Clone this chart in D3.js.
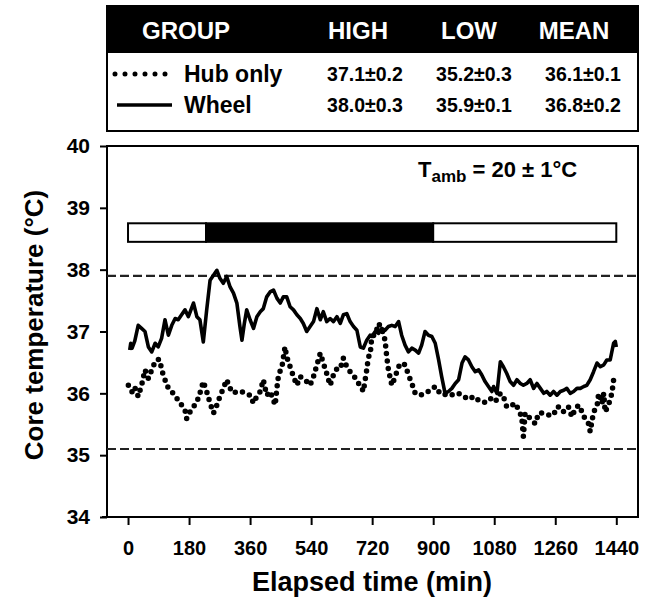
<!DOCTYPE html>
<html>
<head>
<meta charset="utf-8">
<script src="https://cdn.jsdelivr.net/npm/d3@7"></script>
<style>
  html, body { margin: 0; padding: 0; background: #fff; }
  svg { display: block; font-family: "Liberation Sans", Arial, Helvetica, sans-serif; font-weight: bold; }
</style>
</head>
<body>
<svg id="chart" width="650" height="600"></svg>
<script>
// Elapsed time (min) and core temperature (°C) for the wheel group
const wheelTime = [5, 8, 12, 20, 30, 40, 50, 60, 70, 80, 89, 99, 109, 119, 129, 139, 148, 158, 168, 178,
  193, 203, 212, 222, 232, 242, 252, 262, 271, 281, 291, 301, 311, 321, 330, 336, 343, 350, 360, 370,
  380, 390, 399, 409, 419, 429, 439, 449, 458, 468, 478, 488, 498, 508, 517, 527, 537, 547, 557, 567,
  576, 586, 596, 606, 616, 626, 635, 645, 655, 665, 675, 685, 694, 704, 714, 719, 729, 739, 748, 758,
  768, 778, 788, 798, 807, 817, 827, 837, 847, 857, 866, 876, 886, 896, 906, 916, 925, 935, 945, 955,
  965, 975, 985, 994, 1004, 1014, 1024, 1034, 1043, 1053, 1063, 1073, 1078, 1088, 1098, 1107, 1117, 1127, 1137, 1147,
  1157, 1166, 1176, 1186, 1196, 1206, 1216, 1226, 1235, 1245, 1255, 1265, 1275, 1285, 1294, 1304, 1314, 1324, 1334, 1344,
  1353, 1363, 1373, 1383, 1393, 1403, 1412, 1422, 1432, 1437, 1440];
const wheelTemp = [36.70, 36.81, 36.73, 36.85, 37.10, 37.05, 37.00, 36.75, 36.67, 36.81, 36.75, 36.89, 37.19, 36.94, 37.10, 37.21, 37.19, 37.27, 37.35, 37.24,
  37.46, 37.24, 37.19, 36.83, 37.35, 37.83, 37.91, 37.99, 37.86, 37.78, 37.89, 37.72, 37.62, 37.46, 37.08, 36.86, 37.13, 37.35, 37.19, 37.05,
  37.24, 37.32, 37.37, 37.56, 37.64, 37.67, 37.54, 37.46, 37.56, 37.56, 37.40, 37.35, 37.27, 37.21, 37.13, 37.00, 37.08, 37.16, 37.37, 37.19,
  37.32, 37.16, 37.21, 37.16, 37.24, 37.13, 37.27, 37.29, 37.16, 37.08, 37.02, 36.75, 36.73, 36.86, 36.94, 36.92, 37.00, 36.97, 37.05, 37.02,
  37.08, 37.10, 37.08, 37.16, 36.94, 36.78, 36.67, 36.73, 36.70, 36.65, 36.78, 37.00, 36.94, 36.92, 36.81, 36.54, 36.27, 36.00, 36.03, 36.08,
  36.16, 36.22, 36.49, 36.59, 36.54, 36.43, 36.35, 36.38, 36.30, 36.19, 36.11, 36.03, 36.11, 36.00, 36.51, 36.43, 36.32, 36.19, 36.13, 36.22,
  36.16, 36.13, 36.16, 36.22, 36.08, 36.16, 36.08, 36.00, 36.03, 35.97, 36.03, 35.97, 36.03, 36.05, 36.08, 36.00, 36.03, 36.08, 36.08, 36.11,
  36.13, 36.22, 36.35, 36.49, 36.43, 36.46, 36.54, 36.54, 36.81, 36.84, 36.75];

// Elapsed time (min) and core temperature (°C) for the hub-only group
const hubTime = [1, 6, 11, 16, 21, 30, 40, 50, 60, 70, 80, 88, 94, 99, 109, 119, 129, 139, 148, 158,
  168, 173, 183, 193, 203, 212, 222, 232, 242, 252, 262, 271, 281, 291, 301, 311, 321, 335, 345, 360,
  370, 380, 390, 399, 409, 419, 434, 439, 444, 454, 463, 468, 478, 488, 498, 508, 517, 527, 537, 547,
  557, 567, 576, 586, 596, 606, 616, 626, 635, 645, 655, 665, 675, 685, 694, 704, 709, 714, 719, 729,
  739, 748, 758, 763, 768, 778, 788, 798, 807, 817, 827, 837, 847, 862, 876, 891, 906, 916, 930, 945,
  960, 975, 990, 1005, 1020, 1035, 1050, 1068, 1083, 1098, 1107, 1117, 1130, 1142, 1152, 1161, 1166, 1171, 1181, 1191,
  1201, 1211, 1226, 1240, 1255, 1265, 1275, 1285, 1299, 1309, 1319, 1329, 1339, 1349, 1358, 1363, 1373, 1383, 1388, 1398,
  1403, 1407, 1417, 1427, 1430, 1434];
const hubTemp = [36.13, 36.10, 36.03, 36.00, 36.08, 35.95, 36.13, 36.38, 36.24, 36.38, 36.51, 36.55, 36.54, 36.38, 36.22, 36.08, 36.03, 35.95, 35.89, 35.81,
  35.73, 35.59, 35.70, 35.78, 35.86, 36.00, 36.19, 36.03, 35.84, 35.68, 35.81, 35.95, 36.08, 36.22, 36.08, 36.00, 36.03, 36.03, 36.00, 35.97,
  35.84, 35.95, 36.03, 36.22, 35.97, 36.03, 35.81, 36.08, 36.30, 36.43, 36.75, 36.59, 36.43, 36.27, 36.13, 36.27, 36.24, 36.19, 36.13, 36.27,
  36.46, 36.65, 36.49, 36.32, 36.13, 36.30, 36.40, 36.40, 36.57, 36.43, 36.35, 36.30, 36.19, 36.13, 36.03, 36.38, 36.59, 36.62, 36.92, 36.95,
  37.13, 37.05, 36.86, 36.59, 36.38, 36.13, 36.27, 36.43, 36.49, 36.46, 36.30, 36.16, 36.00, 35.97, 36.00, 36.05, 36.11, 36.03, 35.97, 36.00,
  35.97, 36.00, 35.95, 35.90, 35.95, 35.88, 35.85, 35.92, 35.86, 36.00, 35.95, 35.78, 35.80, 35.84, 35.73, 35.62, 35.30, 35.68, 35.62, 35.57,
  35.51, 35.68, 35.68, 35.65, 35.65, 35.78, 35.78, 35.70, 35.78, 35.62, 35.75, 35.81, 35.70, 35.57, 35.51, 35.38, 35.70, 35.78, 36.00, 35.84,
  36.00, 35.70, 35.81, 36.00, 36.13, 36.30];

// Axis ticks
const xTicks = [0, 180, 360, 540, 720, 900, 1080, 1260, 1440];
const yTicks = [34, 35, 36, 37, 38, 39, 40];

// Reference levels (dashed) and the light/dark schedule bar (min)
const refLevels = [37.9, 35.1];
const lightPhases = [[0, 230, "#fff"], [230, 900, "#000"], [900, 1440, "#fff"]];
const barTemps = [38.75, 38.45];

// Summary table
const tableHeader = ["GROUP", "HIGH", "LOW", "MEAN"];
const groups = ["Hub only", "Wheel"];
const highs = ["37.1\u00b10.2", "38.0\u00b10.3"];
const lows = ["35.2\u00b10.3", "35.9\u00b10.1"];
const means = ["36.1\u00b10.1", "36.8\u00b10.2"];

const svg = d3.select("#chart");
svg.append("rect").attr("width", 650).attr("height", 600).attr("fill", "#fff");

const x = d3.scaleLinear().domain([-62, 1504]).range([107, 638]);
const y = d3.scaleLinear().domain([34, 40]).range([517, 146]);

// ---- summary table ----
const tbl = svg.append("g");
const tLeft = 107, tRight = 638, tTop = 6, tHead = 53, tBottom = 131;
tbl.append("rect").attr("x", tLeft).attr("y", tTop).attr("width", tRight - tLeft).attr("height", tBottom - tTop)
  .attr("fill", "#fff").attr("stroke", "#000").attr("stroke-width", 2);
tbl.append("rect").attr("x", tLeft).attr("y", tTop).attr("width", tRight - tLeft).attr("height", tHead - tTop)
  .attr("fill", "#000");
const headX = [186, 358, 469, 574];
tbl.selectAll("text.head").data(tableHeader).join("text").attr("class", "head")
  .attr("x", (d, i) => headX[i]).attr("y", 39).attr("text-anchor", "middle")
  .attr("fill", "#fff").attr("font-size", 24).text(d => d);

const rowY = [74, 105];
// legend samples
tbl.append("line").attr("x1", 115).attr("x2", 166).attr("y1", rowY[0]).attr("y2", rowY[0])
  .attr("stroke", "#000").attr("stroke-width", 5).attr("stroke-linecap", "round").attr("stroke-dasharray", "0 10");
tbl.append("line").attr("x1", 117).attr("x2", 172).attr("y1", rowY[1]).attr("y2", rowY[1])
  .attr("stroke", "#000").attr("stroke-width", 3.5);
tbl.selectAll("text.grp").data(groups).join("text").attr("class", "grp")
  .attr("x", 184).attr("y", (d, i) => rowY[i] + 8).attr("font-size", 23).text(d => d);
const colX = [365, 474, 583];
[highs, lows, means].forEach((col, c) => {
  tbl.selectAll("text.c" + c).data(col).join("text").attr("class", "c" + c)
    .attr("x", colX[c]).attr("y", (d, i) => rowY[i] + 7).attr("text-anchor", "middle")
    .attr("font-size", 19.5).text(d => d);
});

// ---- plot frame ----
svg.append("rect").attr("x", x(-62)).attr("y", y(40)).attr("width", x(1504) - x(-62)).attr("height", y(34) - y(40))
  .attr("fill", "none").attr("stroke", "#000").attr("stroke-width", 2);

// light/dark bar
svg.append("g").selectAll("rect").data(lightPhases).join("rect")
  .attr("x", d => x(d[0])).attr("width", d => x(d[1]) - x(d[0]))
  .attr("y", y(barTemps[0])).attr("height", y(barTemps[1]) - y(barTemps[0]))
  .attr("fill", d => d[2]).attr("stroke", "#000").attr("stroke-width", 2);

// dashed reference levels
svg.append("g").selectAll("line").data(refLevels).join("line")
  .attr("x1", x(-62)).attr("x2", x(1504)).attr("y1", d => y(d)).attr("y2", d => y(d))
  .attr("stroke", "#222").attr("stroke-width", 2.2).attr("stroke-dasharray", "9 4");

// series
const wheelData = wheelTime.map((t, i) => [t, wheelTemp[i]]);
const hubData = hubTime.map((t, i) => [t, hubTemp[i]]);
const line = d3.line().x(d => x(d[0])).y(d => y(d[1]));

svg.append("path").datum(hubData).attr("d", line).attr("fill", "none")
  .attr("stroke", "#000").attr("stroke-width", 5.5).attr("stroke-linecap", "round")
  .attr("stroke-dasharray", "0 7.5");
svg.append("path").datum(wheelData).attr("d", line).attr("fill", "none")
  .attr("stroke", "#000").attr("stroke-width", 3.6).attr("stroke-linejoin", "round");

// ambient temperature note
const note = svg.append("text").attr("x", 418).attr("y", 177).attr("font-size", 22);
note.append("tspan").text("T");
note.append("tspan").attr("font-size", 17).attr("dy", 5).text("amb");
note.append("tspan").attr("dy", -5).text(" = 20 \u00b1 1\u00b0C");

// ---- axes ----
const xAxis = svg.append("g").attr("transform", `translate(0,${y(34)})`)
  .call(d3.axisBottom(x).tickValues(xTicks).tickFormat(d3.format("d")).tickSize(8).tickSizeOuter(0).tickPadding(16));
xAxis.select(".domain").remove();
xAxis.selectAll("line").attr("stroke-width", 2);
xAxis.selectAll("text").attr("font-size", 20).attr("font-family", null).attr("fill", "#000");
svg.append("line").attr("x1", x(-62) - 5).attr("x2", x(1504)).attr("y1", y(34)).attr("y2", y(34))
  .attr("stroke", "#000").attr("stroke-width", 2);

const yAxis = svg.append("g").attr("transform", `translate(${x(-62)},0)`)
  .call(d3.axisLeft(y).tickValues(yTicks).tickFormat(d3.format("d")).tickSize(7).tickSizeOuter(0).tickPadding(10));
yAxis.select(".domain").remove();
yAxis.selectAll("line").attr("stroke-width", 2);
yAxis.selectAll("text").attr("font-size", 21).attr("font-family", null).attr("fill", "#000");

// axis titles
svg.append("text").attr("x", 372).attr("y", 591).attr("text-anchor", "middle")
  .attr("font-size", 27).text("Elapsed time (min)");
svg.append("text").attr("transform", "translate(43,325) rotate(-90)").attr("text-anchor", "middle")
  .attr("font-size", 26).text("Core temperature (\u00b0C)");
</script>
</body>
</html>
